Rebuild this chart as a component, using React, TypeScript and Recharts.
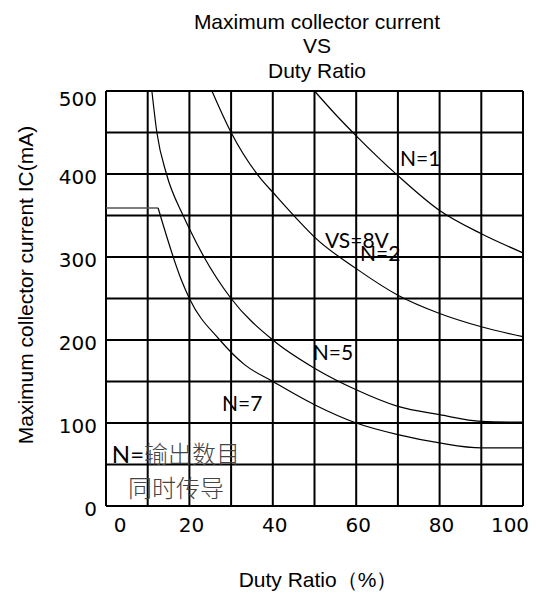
import { LineChart, Line, XAxis, YAxis, CartesianGrid, ReferenceDot } from 'recharts'

// grid / tick values
const xGridTicks = [0, 10, 20, 30, 40, 50, 60, 70, 80, 90, 100]
const yGridTicks = [0, 50, 100, 150, 200, 250, 300, 350, 400, 450, 500]
const xLabelStep = 20
const yLabelStep = 100

// curves: duty ratio (%) -> max collector current (mA)
const dutyN1 = [50, 55, 60, 70, 80, 90, 100]
const currentN1 = [500, 472, 446, 398, 356, 328, 305]

const dutyN2 = [25.4, 30, 37, 40, 46.5, 50, 60, 70, 80, 90, 100]
const currentN2 = [500, 450, 395, 378, 342, 324, 286, 254, 232, 216, 204]

const dutyN5 = [11, 12.2, 14.5, 18.5, 20, 23.5, 30, 40, 50, 60, 70, 80, 90, 100]
const currentN5 = [500, 450, 400, 350, 334, 300, 250, 200, 166, 140, 120, 110, 102, 101]

const dutyN7 = [12.5, 18.1, 20, 27.3, 33.3, 40, 50, 60, 70, 80, 90, 100]
const currentN7 = [359, 272, 250, 200, 170, 150, 122, 100, 86, 76, 70, 70]

const dutyLimit = [0, 12.5]
const currentLimit = [359, 359]

const noteTexts = ['N=1', 'VS=8V', 'N=2', 'N=5', 'N=7', 'N=输出数目', '同时传导']
const noteDuty = [70.5, 52.5, 60.9, 49.6, 27.8, 1.4, 5.3]
const noteCurrent = [410, 311, 295, 176, 114.5, 52, 11]
const noteSize = [21, 21, 21, 21, 21, 24, 24]

const zip = (xs: number[], ys: number[]) => xs.map((duty, i) => ({ duty, current: ys[i] }))

const n1 = zip(dutyN1, currentN1)
const n2 = zip(dutyN2, currentN2)
const n5 = zip(dutyN5, currentN5)
const n7 = zip(dutyN7, currentN7)
const limit = zip(dutyLimit, currentLimit)

const tickFont = '"DejaVu Sans", sans-serif'
const textFont = '"Liberation Sans", Arial, sans-serif'
const noteFont = 'Lato, "Noto Sans CJK SC", sans-serif'

function XTick({ x, y, payload }: any) {
  const v = payload.value
  if (v % xLabelStep !== 0) return <g />
  const shift = v === 0 ? 14 : v === 100 ? -13 : 2
  return (
    <text x={x + shift} y={y} dy="0.71em" textAnchor="middle" fontFamily={tickFont} fontSize={20} fill="#000">
      {v}
    </text>
  )
}

function YTick({ x, y, payload }: any) {
  const v = payload.value
  if (v % yLabelStep !== 0) return <g />
  const shift = v === 500 ? 8 : 3
  return (
    <text x={x} y={y + shift} dy="0.355em" textAnchor="end" fontFamily={tickFont} fontSize={20} fill="#000">
      {v}
    </text>
  )
}

// latin part black, chinese part in a lighter grey like the scan
function Note(i: number) {
  const text = noteTexts[i]
  const latin = text.match(/^[A-Za-z0-9=]*/)?.[0] ?? ''
  const rest = text.slice(latin.length)
  return (props: any) => (
    <text x={props.cx} y={props.cy} fontFamily={noteFont} fontSize={noteSize[i]} fill="#000">
      {latin}
      {rest && (
        <tspan fill="#444" fontWeight={300}>
          {rest}
        </tspan>
      )}
    </text>
  )
}

export default function App() {
  const curve = { type: 'monotone' as const, dataKey: 'current', stroke: '#000', strokeWidth: 1.2, dot: false, isAnimationActive: false }
  return (
    <div style={{ position: 'absolute', left: 0, top: 0, width: 536, height: 595, background: '#fff' }}>
      <LineChart width={536} height={595} margin={{ top: 91, right: 13, bottom: 59, left: 0 }}>
        <CartesianGrid stroke="#000" strokeWidth={2} />
        <XAxis
          dataKey="duty"
          type="number"
          domain={[0, 100]}
          ticks={xGridTicks}
          interval={0}
          height={30}
          axisLine={false}
          tickLine={false}
          tickSize={0}
          tickMargin={12}
          tick={<XTick />}
        />
        <YAxis
          type="number"
          domain={[0, 500]}
          ticks={yGridTicks}
          interval={0}
          width={106}
          axisLine={false}
          tickLine={false}
          tickSize={0}
          tickMargin={9}
          tick={<YTick />}
        />
        <Line {...curve} data={limit} type="linear" strokeWidth={1.5} stroke="#555" />
        <Line {...curve} data={n1} />
        <Line {...curve} data={n2} />
        <Line {...curve} data={n5} />
        <Line {...curve} data={n7} />
        {noteTexts.map((t, i) => (
          <ReferenceDot key={t} x={noteDuty[i]} y={noteCurrent[i]} r={0} shape={Note(i)} />
        ))}
      </LineChart>
      <div
        style={{
          position: 'absolute',
          left: 117,
          top: 9.5,
          width: 400,
          textAlign: 'center',
          fontFamily: textFont,
          fontSize: 21,
          lineHeight: '24.5px',
          color: '#000',
        }}
      >
        Maximum collector current
        <br />
        VS
        <br />
        Duty Ratio
      </div>
      <div
        style={{
          position: 'absolute',
          left: 25,
          top: 285,
          transform: 'translate(-50%, -50%) rotate(-90deg)',
          whiteSpace: 'nowrap',
          fontFamily: textFont,
          fontSize: 21,
          lineHeight: '21px',
          color: '#000',
        }}
      >
        Maximum collector current IC(mA)
      </div>
      <div
        style={{
          position: 'absolute',
          left: 118,
          top: 569,
          width: 400,
          textAlign: 'center',
          fontFamily: textFont,
          fontSize: 21,
          lineHeight: '21px',
          color: '#000',
        }}
      >
        Duty Ratio（%）
      </div>
    </div>
  )
}
